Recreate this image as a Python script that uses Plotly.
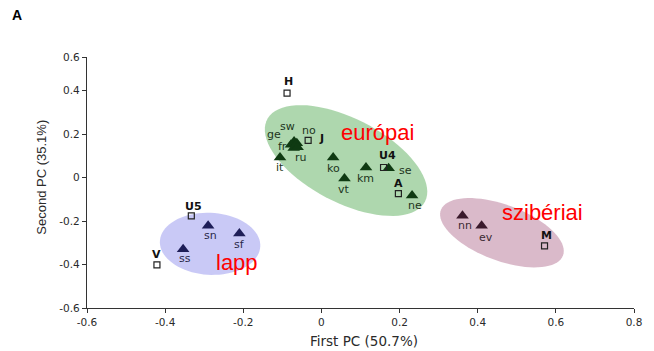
import numpy as np
import plotly.graph_objects as go

# ---------------- data ----------------
eu_names = ["sw", "ge", "fr", "no", "ru", "it", "ko", "vt", "km", "se", "ne"]
eu_x = [-0.070, -0.078, -0.071, -0.063, -0.061, -0.106, 0.030, 0.059, 0.114, 0.172, 0.232]
eu_y = [0.166, 0.150, 0.136, 0.158, 0.139, 0.092, 0.092, -0.005, 0.046, 0.042, -0.083]

lapp_names = ["sn", "sf", "ss"]
lapp_x = [-0.290, -0.210, -0.354]
lapp_y = [-0.222, -0.257, -0.330]

sib_names = ["nn", "ev"]
sib_x = [0.361, 0.410]
sib_y = [-0.176, -0.222]

anc_names = ["H", "J", "U4", "A", "U5", "V", "M"]
anc_x = [-0.088, -0.034, 0.159, 0.197, -0.333, -0.421, 0.571]
anc_y = [0.388, 0.171, 0.046, -0.074, -0.176, -0.402, -0.314]

# the published axis ends just below 0.6, with the "0.6" label drawn at its top end
YTOP = 0.554
tick_vals_x = [-0.6, -0.4, -0.2, 0, 0.2, 0.4, 0.6, 0.8]
tick_text_x = ["-0.6", "-0.4", "-0.2", "0", "0.2", "0.4", "0.6", "0.8"]
tick_vals_y = [-0.6, -0.4, -0.2, 0, 0.2, 0.4, YTOP]
tick_text_y = ["-0.6", "-0.4", "-0.2", "0", "0.2", "0.4", "0.6"]

group_names = ["európai", "lapp", "szibériai"]
group_cx = [0.063, -0.285, 0.462]
group_cy = [0.078, -0.305, -0.254]

x_title = "First PC (50.7%)"
y_title = "Second PC (35.1%)"
panel = "A"

# ---------------- layout helpers ----------------
W, H = 654, 351
ML, MR, MT, MB = 87, 12, 57, 43
PW, PH = W - ML - MR, H - MT - MB
XR = [-0.6, 0.8]
YR = [-0.6, YTOP]
px_per_x = PW / (XR[1] - XR[0])
px_per_y = PH / (YR[1] - YR[0])

def paper_x(px):
    return (px - ML) / PW

def paper_y(py):
    return (H - MB - py) / PH

# label offsets in pixels (dx right, dy up)
lbl_off = {
    "sw": (-7, 15), "ge": (-17, 10), "fr": (-11, 1), "no": (12, 13), "ru": (3, -10),
    "it": (0, -10), "ko": (0, -11), "vt": (0, -11), "km": (0, -11), "se": (17, -2),
    "ne": (3, -10), "sn": (2, -10), "sf": (0, -11), "ss": (2, -9), "nn": (3, -10),
    "ev": (4, -12), "H": (1, 12), "J": (13, 2), "U4": (4, 12), "A": (0, 10),
    "U5": (2, 9), "V": (0, 10), "M": (2, 10),
}

fig = go.Figure()

# ellipses (semi axes in px, angle deg, colours)
ell_style = [
    (90, 42, -27, "rgba(160,208,160,0.85)"),
    (51, 31, -3, "rgba(195,195,245,0.9)"),
    (66, 28, -20, "rgba(214,178,196,0.9)"),
]
shapes = []
t = np.linspace(0, 2 * np.pi, 80)
for (a, b, ang, col), cx, cy in zip(ell_style, group_cx, group_cy):
    th = np.deg2rad(ang)
    ex = a * np.cos(t)
    ey = b * np.sin(t)
    rx = ex * np.cos(th) - ey * np.sin(th)
    ry = ex * np.sin(th) + ey * np.cos(th)
    xs = cx + rx / px_per_x
    ys = cy + ry / px_per_y
    path = "M " + " L ".join(f"{x:.5f},{y:.5f}" for x, y in zip(xs, ys)) + " Z"
    shapes.append(dict(type="path", path=path, xref="x", yref="y",
                       fillcolor=col, line=dict(width=0), layer="below"))

def add_tri(xs, ys, col):
    fig.add_trace(go.Scatter(x=xs, y=ys, mode="markers",
                             marker=dict(symbol="triangle-up", size=11, color=col,
                                         line=dict(width=0)),
                             showlegend=False, hoverinfo="skip"))

add_tri(eu_x, eu_y, "#0f3a12")
add_tri(lapp_x, lapp_y, "#1e1e58")
add_tri(sib_x, sib_y, "#3a1a2c")
fig.add_trace(go.Scatter(x=anc_x, y=anc_y, mode="markers",
                         marker=dict(symbol="square-open", size=6, color="#222",
                                     line=dict(width=1.2)),
                         showlegend=False, hoverinfo="skip"))

annotations = []
def add_labels(names, xs, ys, col, bold=False):
    for n, x, y in zip(names, xs, ys):
        dx, dy = lbl_off.get(n, (0, -10))
        annotations.append(dict(x=x, y=y, xref="x", yref="y", text=f"<b>{n}</b>" if bold else n,
                                showarrow=False, xshift=dx, yshift=dy,
                                font=dict(family="DejaVu Sans", size=11, color=col)))

add_labels(eu_names, eu_x, eu_y, "#1d3520")
add_labels(lapp_names, lapp_x, lapp_y, "#2a2a4a")
add_labels(sib_names, sib_x, sib_y, "#3a2a32")
add_labels(anc_names, anc_x, anc_y, "#111", bold=True)

# group captions (red)
grp_off = [(31, 28), (27, -19), (41, 20)]
for n, cx, cy, (dx, dy) in zip(group_names, group_cx, group_cy, grp_off):
    annotations.append(dict(x=cx, y=cy, xref="x", yref="y", text=n, showarrow=False,
                            xshift=dx, yshift=dy,
                            font=dict(family="Liberation Sans, Arial", size=22, color="#ff0000")))

# axis titles and panel letter
annotations.append(dict(x=paper_x(368), y=paper_y(341), xref="paper", yref="paper",
                        text=x_title, showarrow=False, xanchor="center", yanchor="middle",
                        font=dict(family="DejaVu Sans", size=13.5, color="#2a2a2a")))
annotations.append(dict(x=paper_x(40), y=paper_y(177), xref="paper", yref="paper",
                        text=y_title, showarrow=False, xanchor="center", yanchor="middle",
                        textangle=-90,
                        font=dict(family="Liberation Sans, Arial", size=13, color="#2a2a2a")))
annotations.append(dict(x=paper_x(9), y=paper_y(15), xref="paper", yref="paper",
                        text=f"<b>{panel}</b>", showarrow=False, xanchor="left", yanchor="middle",
                        font=dict(family="Liberation Sans, Arial", size=14, color="#000")))

axis_common = dict(showgrid=False, zeroline=False, showline=True, linecolor="#333",
                   linewidth=1.3, ticks="outside", ticklen=4, tickcolor="#333",
                   tickfont=dict(family="DejaVu Sans", size=10.5, color="#2a2a2a"))

fig.update_layout(
    width=W, height=H,
    margin=dict(l=ML, r=MR, t=MT, b=MB),
    paper_bgcolor="white", plot_bgcolor="white",
    shapes=shapes, annotations=annotations,
    xaxis=dict(range=XR, tickvals=tick_vals_x, ticktext=tick_text_x, **axis_common),
    yaxis=dict(range=YR, tickvals=tick_vals_y, ticktext=tick_text_y, **axis_common),
)

fig.write_html("out.html")
